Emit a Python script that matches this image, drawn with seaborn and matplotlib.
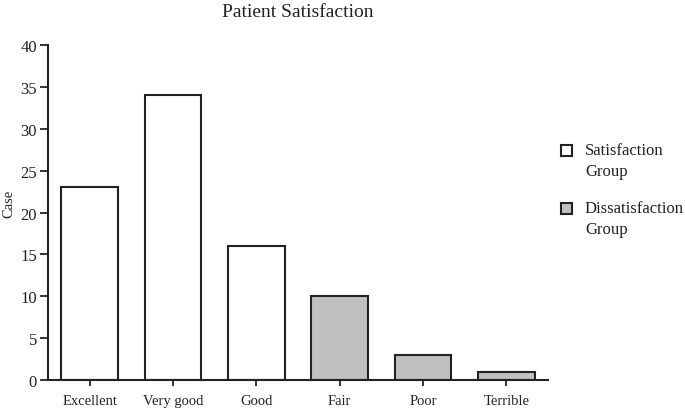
import matplotlib
matplotlib.use("Agg")
import matplotlib.pyplot as plt
from matplotlib.patches import Rectangle
import seaborn as sns
import pandas as pd

categories = ["Excellent", "Very good", "Good", "Fair", "Poor", "Terrible"]
cases = [23, 34, 16, 10, 3, 1]
groups = ["Satisfaction Group"] * 3 + ["Dissatisfaction Group"] * 3
legend_groups = ["Satisfaction Group", "Dissatisfaction Group"]
legend_labels = ["Satisfaction\nGroup", "Dissatisfaction\nGroup"]
yticks = [0, 5, 10, 15, 20, 25, 30, 35, 40]

sns.set_style("ticks")
plt.rcParams["font.family"] = ["Liberation Serif", "DejaVu Serif"]

df = pd.DataFrame({"Rating": categories, "Case": cases, "Group": groups})
colors = {"Satisfaction Group": "#ffffff", "Dissatisfaction Group": "#c0c0c0"}
ink = "#222222"

W, H = 685, 410
fig = plt.figure(figsize=(W / 100, H / 100), dpi=100)
ax = fig.add_axes([48 / W, 1 - 381 / H, 500 / W, 335 / H])
sns.barplot(data=df, x="Rating", y="Case", hue="Group", dodge=False,
            palette=colors, edgecolor=ink, linewidth=1.5, width=0.68,
            ax=ax, legend=False)

ax.set_xlim(-0.5, 5.5)
ax.set_ylim(0, 40)
ax.set_yticks(yticks)
ax.set_xlabel("")
ax.set_ylabel("Case", fontsize=10.5, color=ink)
ax.yaxis.set_label_coords(-0.066, 0.53)
ax.tick_params(axis="x", labelsize=10.5, colors=ink, width=1.3, direction="out", length=4, pad=6)
ax.tick_params(axis="y", labelsize=12, colors=ink, width=1.3, direction="out", length=6, pad=2)
for s in ["left", "bottom"]:
    ax.spines[s].set_linewidth(1.5)
    ax.spines[s].set_color(ink)
sns.despine(ax=ax)
ax.set_title("Patient Satisfaction", fontsize=14, color=ink, pad=21)

# legend (boxes aligned with first line of each label, as in the reference)
box_tops = [146, 204]
text_tops = [143, 201]
for g, lab, bt, tt in zip(legend_groups, legend_labels, box_tops, text_tops):
    fig.patches.append(Rectangle((561 / W, 1 - (bt + 11) / H), 11 / W, 11 / H,
                                 transform=fig.transFigure, facecolor=colors[g],
                                 edgecolor=ink, linewidth=1.5))
    fig.text(585 / W, 1 - tt / H, lab, fontsize=12, color=ink, va="top", ha="left",
             linespacing=1.4)
fig.savefig("out.png", dpi=100)
